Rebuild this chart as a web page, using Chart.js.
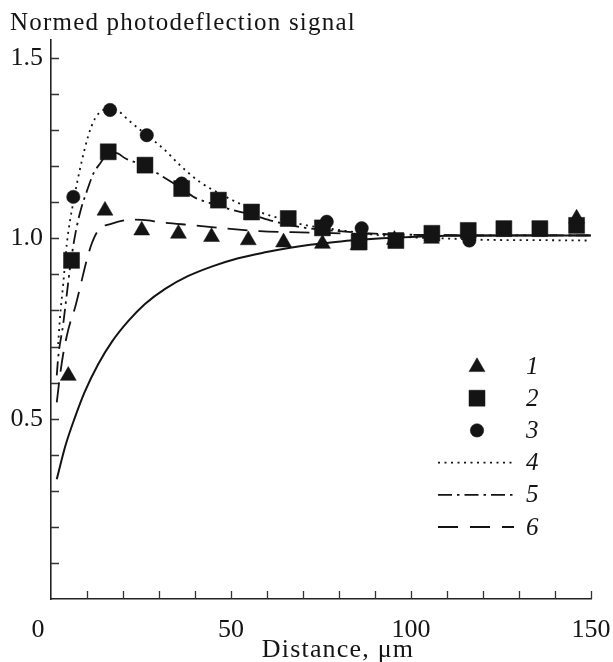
<!DOCTYPE html>
<html>
<head>
<meta charset="utf-8">
<script src="https://cdn.jsdelivr.net/npm/chart.js@4.4.0/dist/chart.umd.min.js"></script>
<style>
  html, body { margin: 0; padding: 0; background: #fff; }
</style>
</head>
<body>
<canvas id="signalChart" width="613" height="662"></canvas>
<script>
// measured points: distance (um) and normed signal
const triX = [4.8, 15, 25.2, 35.4, 44.6, 54.8, 64.6, 75.4, 85.3, 95.4, 105.7, 146];
const triY = [0.619, 1.077, 1.022, 1.013, 1.004, 0.995, 0.989, 0.985, 0.981, 0.996, 0.999, 1.055];
const sqX = [5.7, 15.9, 26.1, 36.3, 46.5, 55.7, 65.9, 75.4, 85.6, 95.8, 105.8, 115.9, 125.8, 135.8, 146];
const sqY = [0.939, 1.24, 1.203, 1.138, 1.106, 1.073, 1.055, 1.029, 0.99, 0.994, 1.014, 1.022, 1.027, 1.027, 1.036];
const cirX = [6.2, 16.4, 26.6, 36.3, 76.6, 86.3, 116.2];
const cirY = [1.115, 1.356, 1.286, 1.152, 1.046, 1.028, 0.994];

// calculated curves
const dotX = [2.0, 2.5, 3.4, 4.4, 5.3, 6.2, 7.1, 8.5, 10.4, 12.2, 14.5, 16.5, 18.5, 21.5, 26.6, 31.2, 35.8, 41.4, 46.9, 52.5, 58, 63.6, 71, 79.4, 90, 100, 111.7, 120, 135, 150];
const dotY = [0.707, 0.781, 0.874, 0.985, 1.05, 1.10, 1.147, 1.212, 1.286, 1.332, 1.356, 1.362, 1.355, 1.328, 1.286, 1.249, 1.203, 1.156, 1.124, 1.096, 1.073, 1.055, 1.036, 1.024, 1.01, 1.003, 0.999, 0.996, 0.995, 0.994];
const dashDotX = [1.6, 2.0, 3.4, 4.4, 5.3, 6.2, 7.1, 8.3, 9.9, 11.8, 13.6, 15.9, 18, 20.6, 26.1, 31.2, 36, 40, 43.2, 50.6, 55, 60.8, 70, 80, 90, 100, 120, 150];
const dashDotY = [0.62, 0.67, 0.763, 0.846, 0.92, 0.98, 1.03, 1.08, 1.129, 1.18, 1.207, 1.235, 1.237, 1.222, 1.2, 1.17, 1.14, 1.113, 1.101, 1.078, 1.068, 1.05, 1.03, 1.02, 1.013, 1.01, 1.008, 1.008];
const dashX = [1.6, 2.5, 3.4, 4.4, 5.3, 6.7, 8.1, 9.9, 11.3, 13.1, 16.9, 22.4, 27, 30, 40, 49, 58, 67, 76, 90, 100, 120, 150];
const dashY = [0.545, 0.62, 0.68, 0.73, 0.765, 0.809, 0.865, 0.939, 0.985, 1.022, 1.041, 1.052, 1.05, 1.045, 1.036, 1.027, 1.02, 1.017, 1.015, 1.012, 1.01, 1.008, 1.008];
const solidX = [1.6, 4, 6.7, 9.4, 13.1, 16.9, 21.5, 26.1, 31.7, 38, 45, 52, 59.9, 66, 72, 79, 86, 92, 100, 110, 130, 150];
const solidY = [0.332, 0.425, 0.505, 0.575, 0.651, 0.713, 0.771, 0.818, 0.86, 0.895, 0.923, 0.945, 0.962, 0.973, 0.982, 0.99, 0.996, 1.0, 1.004, 1.007, 1.008, 1.008];

const yTicks = [0, 0.1, 0.2, 0.3, 0.4, 0.5, 0.6, 0.7, 0.8, 0.9, 1.0, 1.1, 1.2, 1.3, 1.4, 1.5];
const yLabels = ['0.5', '1.0', '1.5'];
const xLabels = ['0', '50', '100', '150'];
const legendNames = ['1', '2', '3', '4', '5', '6'];

const INK = '#141414';
const SERIF = '"Liberation Serif", "Times New Roman", serif';

function pts(xs, ys) {
  return xs.map((x, i) => ({ x: x, y: ys[i] }));
}

function curve(xs, ys, dash, width) {
  return {
    data: pts(xs, ys),
    showLine: true,
    borderColor: INK,
    borderWidth: width,
    borderDash: dash,
    pointRadius: 0,
    cubicInterpolationMode: 'monotone',
    order: 2
  };
}

function markers(xs, ys, style, r) {
  return {
    data: pts(xs, ys),
    showLine: false,
    pointStyle: style,
    pointRadius: r,
    pointBackgroundColor: INK,
    pointBorderColor: INK,
    pointBorderWidth: 0.5,
    order: 1
  };
}

// tick marks point into the plot, like the original figure
const innerTicks = {
  id: 'innerTicks',
  beforeDatasetsDraw(chart) {
    const { ctx, chartArea, scales } = chart;
    ctx.save();
    ctx.strokeStyle = '#333';
    ctx.lineWidth = 1.3;
    ctx.beginPath();
    yTicks.forEach(v => {
      if (v === 0) return;
      const y = Math.round(scales.y.getPixelForValue(v)) + 0.5;
      ctx.moveTo(chartArea.left, y);
      ctx.lineTo(chartArea.left + 8, y);
    });
    for (let v = 10; v <= 150; v += 10) {
      const x = Math.round(scales.x.getPixelForValue(v)) + 0.5;
      ctx.moveTo(x, chartArea.bottom);
      ctx.lineTo(x, chartArea.bottom - 8);
    }
    ctx.stroke();
    ctx.restore();
  }
};

// titles and the legend block
const annotations = {
  id: 'annotations',
  afterDraw(chart) {
    const { ctx } = chart;
    ctx.save();
    ctx.fillStyle = INK;
    ctx.textBaseline = 'alphabetic';
    ctx.letterSpacing = '1.2px';
    ctx.font = '25px ' + SERIF;
    ctx.textAlign = 'left';
    ctx.fillText('Normed photodeflection signal', 10, 30);
    ctx.font = '26px ' + SERIF;
    ctx.textAlign = 'center';
    ctx.fillText('Distance, \u03bcm', 338, 657);
    ctx.letterSpacing = '0px';

    const lx = 477, y0 = 366, step = 32.2;
    const styles = ['triangle', 'rect', 'circle'];
    const radii = [9.2, 11.3, 6.7];
    styles.forEach((s, i) => {
      ctx.fillStyle = INK;
      ctx.strokeStyle = INK;
      ctx.lineWidth = 0.5;
      Chart.helpers.drawPoint(ctx, { pointStyle: s, radius: radii[i], rotation: 0, borderWidth: 0.5 }, lx, y0 + i * step + (i === 0 ? 1 : 0));
    });
    const dashes = [[2, 4.5], [14, 5, 2.5, 5], [20, 12]];
    dashes.forEach((d, i) => {
      const y = y0 + (i + 3) * step;
      ctx.strokeStyle = INK;
      ctx.lineWidth = 1.8;
      ctx.setLineDash(d);
      ctx.beginPath();
      ctx.moveTo(438, y);
      ctx.lineTo(514, y);
      ctx.stroke();
    });
    ctx.setLineDash([]);
    ctx.fillStyle = INK;
    ctx.font = 'italic 25px ' + SERIF;
    ctx.textAlign = 'left';
    ctx.textBaseline = 'middle';
    legendNames.forEach((t, i) => {
      ctx.fillText(t, 526, y0 + i * step + 1);
    });
    ctx.restore();
  }
};

new Chart(document.getElementById('signalChart'), {
  type: 'scatter',
  data: {
    datasets: [
      markers(triX, triY, 'triangle', 9.2),
      markers(sqX, sqY, 'rect', 11.3),
      markers(cirX, cirY, 'circle', 6.7),
      curve(dotX, dotY, [2, 4.5], 1.8),
      curve(dashDotX, dashDotY, [14, 5, 2.5, 5], 1.8),
      curve(dashX, dashY, [20, 11], 1.8),
      curve(solidX, solidY, [], 2)
    ]
  },
  options: {
    responsive: false,
    animation: false,
    layout: { padding: { top: 40, right: 22, left: 0, bottom: 0 } },
    plugins: {
      legend: { display: false },
      tooltip: { enabled: false }
    },
    scales: {
      x: {
        type: 'linear',
        min: 0,
        max: 150,
        afterFit: s => { s.height = 63; s.paddingLeft = 0; s.paddingRight = 0; },
        afterBuildTicks: s => { s.ticks = [0, 50, 100, 150].map(v => ({ value: v })); },
        grid: { display: true, drawOnChartArea: false, drawTicks: false },
        border: { display: true, color: '#222', width: 1.6 },
        ticks: {
          padding: 16,
          color: INK,
          maxRotation: 0,
          font: { family: SERIF, size: 26 },
          callback: (v, i) => v === 0 ? xLabels[0] + '    ' : xLabels[i]
        }
      },
      y: {
        type: 'linear',
        min: 0,
        max: 1.55,
        afterFit: s => { s.width = 51; s.paddingTop = 0; s.paddingBottom = 0; },
        afterBuildTicks: s => { s.ticks = yTicks.map(v => ({ value: v })); },
        grid: { display: true, drawOnChartArea: false, drawTicks: false },
        border: { display: true, color: '#222', width: 1.6 },
        ticks: {
          padding: 8,
          color: INK,
          font: { family: SERIF, size: 26 },
          callback: v => {
            const k = Math.round(v * 10);
            return k === 5 ? yLabels[0] : k === 10 ? yLabels[1] : k === 15 ? yLabels[2] : '';
          }
        }
      }
    }
  },
  plugins: [innerTicks, annotations]
});
</script>
</body>
</html>
